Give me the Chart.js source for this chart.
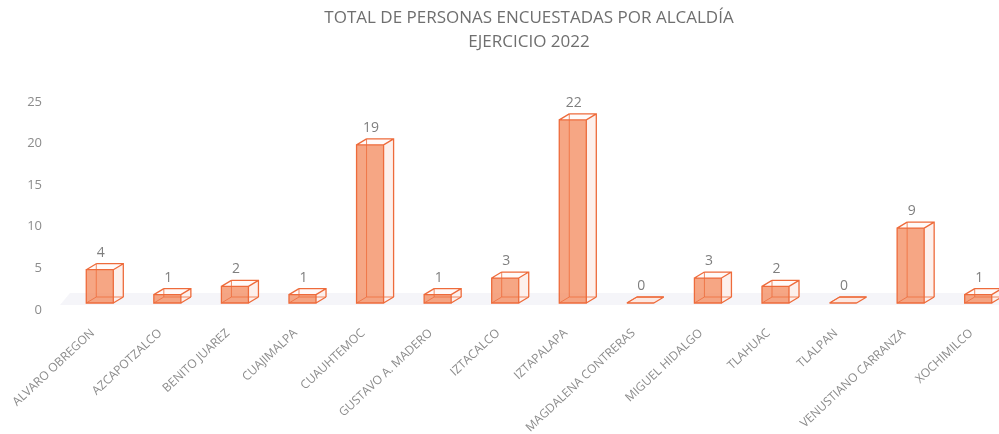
<!DOCTYPE html>
<html>
<head>
<meta charset="utf-8">
<script src="https://cdn.jsdelivr.net/npm/chart.js@4.4.1/dist/chart.umd.min.js"></script>
<style>
  html, body { margin: 0; padding: 0; background: #fff; overflow: hidden; }
  #wrap { width: 1058px; height: 434px; }
</style>
</head>
<body>
<div id="wrap"><canvas id="chart" width="1058" height="434"></canvas></div>
<script>
// data
const alcaldias = [
  "ALVARO OBREGON", "AZCAPOTZALCO", "BENITO JUAREZ", "CUAJIMALPA", "CUAUHTEMOC",
  "GUSTAVO A. MADERO", "IZTACALCO", "IZTAPALAPA", "MAGDALENA CONTRERAS",
  "MIGUEL HIDALGO", "TLAHUAC", "TLALPAN", "VENUSTIANO CARRANZA", "XOCHIMILCO"
]
const personas = [4, 1, 2, 1, 19, 1, 3, 22, 0, 3, 2, 0, 9, 1]
const titleLines = ["TOTAL DE PERSONAS ENCUESTADAS POR ALCALDÍA", "EJERCICIO 2022"]
const yTicks = [0, 5, 10, 15, 20, 25]

const EDGE = "#ee6b3b"
const FONT = "'Open Sans', sans-serif"
const DX = 10, DY = 6   // depth of the boxes

// draws the floor, depth faces, edges and value labels of the 3d bars
const box3d = {
  id: "box3d",
  beforeDatasetsDraw(chart) {
    const ctx = chart.ctx
    const area = chart.chartArea
    const y0 = chart.scales.y.getPixelForValue(0)
    ctx.save()
    ctx.fillStyle = "rgba(232,232,242,0.45)"
    ctx.beginPath()
    ctx.moveTo(area.left - 6, y0 + 2)
    ctx.lineTo(area.right, y0 + 2)
    ctx.lineTo(area.right + DX, y0 - DY - 4)
    ctx.lineTo(area.left + DX - 6, y0 - DY - 4)
    ctx.closePath()
    ctx.fill()
    ctx.restore()
  },
  afterDatasetsDraw(chart) {
    const ctx = chart.ctx
    const meta = chart.getDatasetMeta(0)
    ctx.save()
    meta.data.forEach((bar, i) => {
      const l = bar.x - bar.width / 2, r = bar.x + bar.width / 2
      const t = bar.y, b = bar.base
      // right side
      if (b - t > 0.5) {
        ctx.fillStyle = "rgba(253,238,234,0.9)"
        ctx.beginPath()
        ctx.moveTo(r, t); ctx.lineTo(r + DX, t - DY); ctx.lineTo(r + DX, b - DY); ctx.lineTo(r, b)
        ctx.closePath(); ctx.fill()
      }
      // top
      ctx.fillStyle = personas[i] === 0 ? "rgba(253,232,226,0.95)" : "rgba(255,250,248,0.9)"
      ctx.beginPath()
      ctx.moveTo(l, t); ctx.lineTo(r, t); ctx.lineTo(r + DX, t - DY); ctx.lineTo(l + DX, t - DY)
      ctx.closePath(); ctx.fill()

      // edges
      ctx.strokeStyle = EDGE
      ctx.lineWidth = 1.3
      ctx.beginPath()
      ctx.rect(l, t, r - l, b - t)
      ctx.moveTo(l + DX, t - DY); ctx.lineTo(r + DX, t - DY); ctx.lineTo(r + DX, b - DY)
      ctx.moveTo(l, t); ctx.lineTo(l + DX, t - DY)
      ctx.moveTo(r, t); ctx.lineTo(r + DX, t - DY)
      ctx.moveTo(r, b); ctx.lineTo(r + DX, b - DY)
      ctx.stroke()
      // hidden edges seen through
      ctx.lineWidth = 1
      ctx.strokeStyle = "rgba(238,107,59,0.8)"
      ctx.beginPath()
      ctx.moveTo(l, b); ctx.lineTo(l + DX, b - DY)
      ctx.lineTo(r + DX, b - DY)
      ctx.moveTo(l + DX, b - DY); ctx.lineTo(l + DX, t - DY)
      ctx.stroke()

      // value
      ctx.fillStyle = "#7f7f7f"
      ctx.font = "14px " + FONT
      ctx.textAlign = "center"
      ctx.textBaseline = "bottom"
      ctx.fillText(String(personas[i]), bar.x + 1, t - DY - 4)
    })
    ctx.restore()
  }
}

new Chart(document.getElementById("chart"), {
  type: "bar",
  data: {
    labels: alcaldias,
    datasets: [{
      data: personas,
      backgroundColor: "rgba(245,150,110,0.85)",
      borderWidth: 0,
      categoryPercentage: 1,
      barPercentage: 0.4
    }]
  },
  options: {
    responsive: false,
    animation: false,
    devicePixelRatio: 1,
    plugins: {
      legend: { display: false },
      tooltip: { enabled: false },
      title: {
        display: true,
        text: titleLines,
        color: "#6f6f6f",
        font: { family: FONT, size: 17, weight: "normal", lineHeight: 1.41 },
        padding: { top: 6, bottom: 41 }
      }
    },
    scales: {
      x: {
        grid: { display: false },
        border: { display: false },
        ticks: {
          color: "#8c8c8c",
          font: { family: FONT, size: 12 },
          minRotation: 43, maxRotation: 43,
          padding: 15,
          labelOffset: -7,
          autoSkip: false
        },
        afterFit(s) { s.height = 131 }
      },
      y: {
        min: 0, max: 25,
        afterBuildTicks(s) { s.ticks = yTicks.map(v => ({ value: v })) },
        grid: { display: false, drawTicks: false },
        border: { display: false },
        ticks: {
          color: "#8c8c8c",
          font: { family: FONT, size: 13 },
          padding: 24,
          labelOffset: 7
        },
        afterFit(s) { s.width = 66 }
      },
      // empty strip on the right so the plot stops where the original did
      yRight: {
        position: "right",
        grid: { display: false, drawTicks: false },
        border: { display: false },
        ticks: { display: false },
        afterFit(s) { s.width = 46 }
      }
    }
  },
  plugins: [box3d]
})
</script>
</body>
</html>
